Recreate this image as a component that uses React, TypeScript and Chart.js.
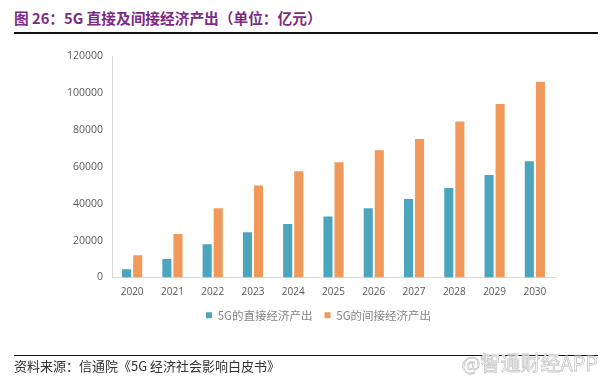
import React, { useEffect, useRef } from "react";
import { Chart, registerables } from "chart.js";

Chart.register(...registerables);

const categories = ["2020", "2021", "2022", "2023", "2024", "2025", "2026", "2027", "2028", "2029", "2030"];
const directOutput = [4500, 10000, 18000, 24500, 29000, 33000, 37500, 42500, 48500, 55500, 63000];
const indirectOutput = [12000, 23500, 37500, 49800, 57500, 62500, 69000, 75000, 84500, 94000, 106000];
const seriesNames = ["5G的直接经济产出", "5G的间接经济产出"];
const yTicks = [0, 20000, 40000, 60000, 80000, 100000, 120000];

const TEAL = "#4BA5BD";
const ORANGE = "#F0995A";

const legendShift = {
  id: "legendShift",
  afterLayout(chart: any) {
    const lg = chart.legend;
    if (lg) {
      lg.left += 36;
      lg.right += 36;
    }
  },
};

export default function App() {
  const canvasRef = useRef<HTMLCanvasElement | null>(null);

  useEffect(() => {
    const canvas = canvasRef.current;
    if (!canvas) return;
    const chart = new Chart(canvas, {
      type: "bar",
      data: {
        labels: categories,
        datasets: [
          {
            label: seriesNames[0],
            data: directOutput,
            backgroundColor: TEAL,
            categoryPercentage: 0.55,
            barPercentage: 0.82,
          },
          {
            label: seriesNames[1],
            data: indirectOutput,
            backgroundColor: ORANGE,
            categoryPercentage: 0.55,
            barPercentage: 0.82,
          },
        ],
      },
      options: {
        animation: false,
        responsive: false,
        maintainAspectRatio: false,
        devicePixelRatio: 1,
        layout: { padding: { left: 10, right: 55, top: 56, bottom: 52 } },
        plugins: {
          legend: {
            display: true,
            position: "bottom",
            labels: {
              boxWidth: 6,
              boxHeight: 6,
              padding: 12,
              color: "#858585",
              font: { family: "'Noto Sans CJK SC', 'Noto Sans', sans-serif", size: 11.5 },
            },
          },
          tooltip: { enabled: false },
        },
        scales: {
          x: {
            grid: { display: false, drawTicks: false },
            border: { display: true, color: "#d9d9d9", width: 1 },
            ticks: {
              color: "#595959",
              padding: 9,
              font: { family: "'Open Sans', 'Noto Sans', sans-serif", size: 10 },
            },
            afterFit: (s: any) => {
              s.height = 20;
            },
          },
          y: {
            min: 0,
            max: 120000,
            afterBuildTicks: (s: any) => {
              s.ticks = yTicks.map((v) => ({ value: v }));
            },
            grid: { display: false, drawTicks: false },
            border: { display: true, color: "#d9d9d9", width: 1 },
            ticks: {
              color: "#595959",
              padding: 9,
              font: { family: "'Open Sans', 'Noto Sans', sans-serif", size: 10.5 },
              callback: (v: any) => String(v),
            },
            afterFit: (s: any) => {
              s.width = 102;
            },
          },
        },
      },
      plugins: [legendShift],
    });
    return () => chart.destroy();
  }, []);

  return (
    <div
      style={{
        position: "fixed",
        left: 0,
        top: 0,
        width: 610,
        height: 383,
        background: "#ffffff",
        overflow: "hidden",
      }}
    >
      <div
        style={{
          position: "absolute",
          left: 14,
          top: 8,
          fontFamily: "'Noto Sans CJK SC', sans-serif",
          fontWeight: 700,
          fontSize: 14.7,
          lineHeight: "20px",
          color: "#7E2A86",
          whiteSpace: "nowrap",
        }}
      >
        图 26：5G 直接及间接经济产出（单位：亿元）
      </div>
      <div style={{ position: "absolute", left: 14, top: 32, width: 584, height: 1.5, background: "#111" }} />
      <canvas ref={canvasRef} width={610} height={383} style={{ position: "absolute", left: 0, top: 0, width: 610, height: 383 }} />
      <div style={{ position: "absolute", left: 14, top: 355, width: 584, height: 1.2, background: "#111" }} />
      <div
        style={{
          position: "absolute",
          left: 14,
          top: 357,
          fontFamily: "'Noto Sans CJK SC', sans-serif",
          fontSize: 13,
          lineHeight: "18px",
          color: "#333",
          whiteSpace: "nowrap",
        }}
      >
        资料来源：信通院《5G 经济社会影响白皮书》
      </div>
      <div
        style={{
          position: "absolute",
          right: 12,
          top: 350,
          fontFamily: "'Noto Sans CJK SC', sans-serif",
          fontSize: 20,
          lineHeight: "26px",
          color: "#ffffff",
          WebkitTextStroke: "0.8px #c8c8c8",
          whiteSpace: "nowrap",
        }}
      >
        @智通财经APP
      </div>
    </div>
  );
}
